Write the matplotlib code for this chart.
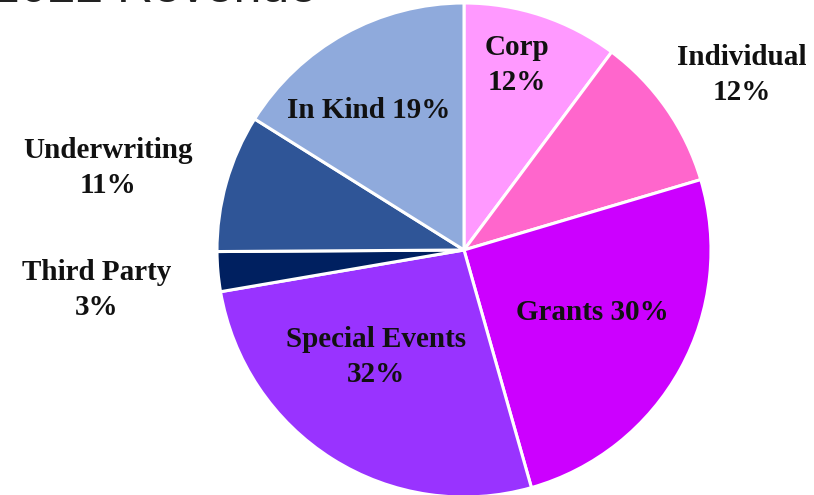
import matplotlib.pyplot as plt

# slice shares (clockwise from top)
labels = ['Corp', 'Individual', 'Grants', 'Special Events', 'Third Party', 'Underwriting', 'In Kind']
shares = [10.2, 10.2, 25.2, 26.7, 2.6, 9.0, 16.1]
label_texts = ['Corp\n12%', 'Individual\n12%', 'Grants 30%', 'Special Events\n32%',
               'Third Party\n3%', 'Underwriting\n11%', 'In Kind 19%']
colors = ['#FF99FF', '#FF66CC', '#CC00FF', '#9933FF', '#002060', '#2F5597', '#8FAADC']

# label anchor points in pixels (x, y from top)
label_pos = [(517, 65), (742, 75), (592, 312), (376, 357), (97, 290), (108, 168), (369, 110)]

W, H = 814, 495
fig = plt.figure(figsize=(W / 100, H / 100), dpi=100)
ax = fig.add_axes([0, 0, 1, 1])
ax.set_xlim(0, W)
ax.set_ylim(0, H)
ax.set_aspect('equal')
ax.axis('off')

ax.pie(shares, colors=colors, startangle=90, counterclock=False,
       center=(464, H - 250), radius=247,
       wedgeprops=dict(edgecolor='white', linewidth=2.2))
ax.set_xlim(0, W)
ax.set_ylim(0, H)

for txt, (px, py) in zip(label_texts, label_pos):
    ax.text(px, H - py, txt, ha='center', va='center', fontsize=21,
            fontweight='bold', family='Liberation Serif', color='#111111',
            linespacing=1.4)

# title cut off at the top edge
ax.text(-8, H - 1.5, '2022 Revenue', ha='left', va='baseline', fontsize=36,
        family='Liberation Sans', color='#222222', clip_on=False)

fig.savefig('out.png', dpi=100)
